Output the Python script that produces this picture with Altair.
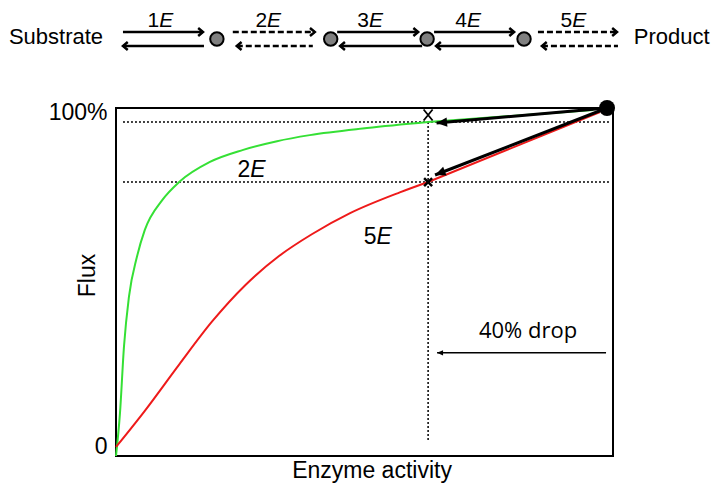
import math
import altair as alt
import pandas as pd

FONT = "Liberation Sans"
GREEN = "#35e035"
RED = "#ee1a1a"

# ---------------- values ----------------
# Flux (% of wild type) against enzyme activity (% of wild type)
green_x = [0.0, 0.8, 1.6, 2.6, 4.2, 5.8, 9.3, 12.7, 18.9, 25.6, 32.4, 39.0, 50.5, 62.8]
green_y = [-2.7, 10.1, 29.9, 44.8, 56.7, 64.8, 73.7, 79.1, 85.1, 88.7, 91.3, 93.1, 95.2, 97.0]
green_tail_x = [62.8, 96.0]
green_tail_y = [97.0, 100.6]
red_x = [0.0, 5.8, 12.7, 19.3, 26.0, 32.8, 39.4, 47.1, 57.1, 62.8]
red_y = [0.0, 10.8, 24.6, 37.4, 48.3, 57.0, 63.5, 69.8, 76.0, 79.1]
red_tail_x = [62.8, 97.4]
red_tail_y = [79.1, 100.0]

wt_x, wt_y = 98.8, 101.2          # wild-type point (big black dot)
drop_x = 62.8                     # reduced activity (40 % drop)
level_green, level_red = 97.0, 79.1
mark_top_y = 99.1                 # the "X" above the 100 % line
arrow_tip_x = [64.5, 64.2]
arrow_tip_y = [96.7, 81.2]
drop_arrow_x = [98.6, 64.6]
drop_arrow_y = 28.1
guide_x0, guide_x1, guide_ybottom = 1.4, 99.6, 1.5

# in-plot text
curve_label_num = ["2", "5"]
curve_label_x = [27.2, 52.6]
curve_label_y = [80.6, 60.6]
drop_text = "40% drop"
drop_text_x, drop_text_y = 82.9, 32.5

# ---------------- pathway diagram ----------------
steps = ["1", "2", "3", "4", "5"]
step_style = ["solid", "dashed", "solid", "solid", "dashed"]
fwd_x0 = [1.4, 23.5, 44.5, 64.0, 84.9]
fwd_x1 = [17.5, 40.0, 60.8, 80.1, 100.8]
back_x0 = [1.4, 24.3, 45.1, 64.4, 85.7]
back_x1 = [17.7, 39.6, 61.6, 80.1, 101.0]
label_x = [8.9, 30.6, 51.1, 70.8, 92.0]
node_x = [20.3, 43.2, 62.6, 82.1]
row_fwd, row_back, row_node, row_label, row_end = 123.9, 119.7, 121.8, 125.4, 120.3
end_names = ["Substrate", "Product"]
end_x = [-2.6, 104.2]

# pixel per unit (plot area 497 x 348)
SX = 497 / 100.0
SY = 348 / (101.2 + 2.7)

xs = alt.Scale(domain=[0, 100], nice=False, zero=False)
ys = alt.Scale(domain=[-2.7, 101.2], nice=False, zero=False)

x_axis = alt.Axis(title="Enzyme activity", labels=False, ticks=False, domain=False, grid=False,
                  titleFont=FONT, titleFontSize=23, titleFontWeight="normal", titleColor="black",
                  titleX=255.5, titleY=21, titleBaseline="alphabetic", titleAlign="center")
y_axis = alt.Axis(title="Flux", values=[0, 100], labelExpr="datum.value == 100 ? '100%' : '0'",
                  ticks=False, domain=False, grid=False, labelFont=FONT, labelFontSize=23,
                  labelColor="black", labelPadding=9,
                  titleFont=FONT, titleFontSize=23, titleFontWeight="normal", titleColor="black",
                  titleAngle=270, titleX=-29, titleY=167, titleBaseline="middle", titleAlign="center")


def X(f="x"):
    return alt.X(f"{f}:Q", scale=xs, axis=x_axis)


def Y(f="y"):
    return alt.Y(f"{f}:Q", scale=ys, axis=y_axis)


def screen_angle(x0, y0, x1, y1):
    return math.degrees(math.atan2(-(y1 - y0) * SY, (x1 - x0) * SX)) % 360


HEAD = "M0,0L-2,-0.9L-2,0.9Z"
CHEVRON = "M-1.2,-1L0,0L-1.2,1"
XMARK = "M-1,-1L1,1M-1,1L1,-1"
XMARK_TALL = "M-0.9,-1.1L0.9,1.1M-0.9,1.1L0.9,-1.1"

layers = []

# dotted guide lines
guides = pd.DataFrame({
    "x": [guide_x0, guide_x0, drop_x],
    "x2": [guide_x1, guide_x1, drop_x],
    "y": [level_green, level_red, level_green],
    "y2": [level_green, level_red, guide_ybottom],
})
layers.append(alt.Chart(guides).mark_rule(color="black", strokeWidth=1.5, strokeDash=[2, 2])
              .encode(x=X(), x2="x2:Q", y=Y(), y2="y2:Q"))

# curves
curve = pd.DataFrame({
    "x": green_x + red_x,
    "y": green_y + red_y,
    "s": ["2E"] * len(green_x) + ["5E"] * len(red_x),
})
tail = pd.DataFrame({
    "x": green_tail_x + red_tail_x,
    "y": green_tail_y + red_tail_y,
    "s": ["2E"] * 2 + ["5E"] * 2,
})
col = alt.Color("s:N", scale=alt.Scale(domain=["2E", "5E"], range=[GREEN, RED]), legend=None)
layers.append(alt.Chart(curve).mark_line(interpolate="monotone", strokeWidth=2)
              .encode(x=X(), y=Y(), color=col))
layers.append(alt.Chart(tail).mark_line(strokeWidth=2).encode(x=X(), y=Y(), color=col))

# black arrows from wild type to the two reduced fluxes
arr = pd.DataFrame({
    "x": [wt_x, wt_x], "y": [wt_y, wt_y],
    "x2": arrow_tip_x, "y2": arrow_tip_y,
})
arr["ang"] = [screen_angle(wt_x, wt_y, a, b) for a, b in zip(arrow_tip_x, arrow_tip_y)]
layers.append(alt.Chart(arr).mark_rule(color="black", strokeWidth=3)
              .encode(x=X(), x2="x2:Q", y=Y(), y2="y2:Q"))
layers.append(alt.Chart(arr).mark_point(shape=HEAD, filled=True, color="black", size=110, opacity=1)
              .encode(x=X("x2"), y=Y("y2"), angle=alt.Angle("ang:Q", scale=None)))

# 40% drop arrow
darr = pd.DataFrame({"x": [drop_arrow_x[0]], "x2": [drop_arrow_x[1]], "y": [drop_arrow_y]})
darr["ang"] = [screen_angle(drop_arrow_x[0], drop_arrow_y, drop_arrow_x[1], drop_arrow_y)]
layers.append(alt.Chart(darr).mark_rule(color="black", strokeWidth=1.5)
              .encode(x=X(), x2="x2:Q", y=Y()))
layers.append(alt.Chart(darr).mark_point(shape=HEAD, filled=True, color="black", size=36, opacity=1)
              .encode(x=X("x2"), y=Y(), angle=alt.Angle("ang:Q", scale=None)))

# x marks
layers.append(alt.Chart(pd.DataFrame({"x": [drop_x], "y": [mark_top_y]}))
              .mark_point(shape=XMARK_TALL, filled=False, color="black", strokeWidth=1.8, size=100, opacity=1)
              .encode(x=X(), y=Y()))
layers.append(alt.Chart(pd.DataFrame({"x": [drop_x], "y": [level_red]}))
              .mark_point(shape=XMARK, filled=False, color="black", strokeWidth=2.5, size=64, opacity=1)
              .encode(x=X(), y=Y()))

# wild-type dot
layers.append(alt.Chart(pd.DataFrame({"x": [wt_x], "y": [wt_y]}))
              .mark_point(shape="circle", filled=True, color="black", size=256, opacity=1)
              .encode(x=X(), y=Y()))

# in-plot labels: digit + italic E
cl = pd.DataFrame({"x": curve_label_x, "y": curve_label_y, "t": curve_label_num})
layers.append(alt.Chart(cl).mark_text(font=FONT, fontSize=23, align="right", baseline="alphabetic",
                                      dx=-1, color="black")
              .encode(x=X(), y=Y(), text="t:N"))
layers.append(alt.Chart(cl).mark_text(font=FONT, fontSize=23, fontStyle="italic", align="left",
                                      baseline="alphabetic", dx=-1, color="black")
              .encode(x=X(), y=Y(), text=alt.value("E")))

layers.append(alt.Chart(pd.DataFrame({"x": [drop_text_x], "y": [drop_text_y], "t": [drop_text]}))
              .mark_text(font="Open Sans", fontSize=22, align="center", baseline="alphabetic", color="black")
              .encode(x=X(), y=Y(), text="t:N"))

# ---------------- pathway diagram ----------------
fwd = pd.DataFrame({"x": fwd_x0, "x2": fwd_x1, "y": [row_fwd] * 5, "dash": step_style,
                    "hx": fwd_x1, "ang": [0] * 5})
back = pd.DataFrame({"x": back_x0, "x2": back_x1, "y": [row_back] * 5, "dash": step_style,
                     "hx": back_x0, "ang": [180] * 5})
paths = pd.concat([fwd, back], ignore_index=True)
dash = alt.StrokeDash("dash:N", scale=alt.Scale(domain=["solid", "dashed"], range=[[1, 0], [6, 3]]),
                      legend=None)
layers.append(alt.Chart(paths).mark_rule(color="black", strokeWidth=2.5)
              .encode(x=X(), x2="x2:Q", y=Y(), strokeDash=dash))
layers.append(alt.Chart(paths).mark_point(shape=CHEVRON, filled=False, color="black", strokeWidth=2.5,
                                          size=64, opacity=1)
              .encode(x=X("hx"), y=Y(), angle=alt.Angle("ang:Q", scale=None)))

layers.append(alt.Chart(pd.DataFrame({"x": node_x, "y": [row_node] * 4}))
              .mark_point(shape="circle", filled=True, fill="#808080", stroke="black", strokeWidth=2,
                          size=180, opacity=1)
              .encode(x=X(), y=Y()))

sl = pd.DataFrame({"x": label_x, "y": [row_label] * 5, "t": steps})
layers.append(alt.Chart(sl).mark_text(font=FONT, fontSize=21, align="right", baseline="alphabetic",
                                      dx=-1, color="black")
              .encode(x=X(), y=Y(), text="t:N"))
layers.append(alt.Chart(sl).mark_text(font=FONT, fontSize=21, fontStyle="italic", align="left",
                                      baseline="alphabetic", dx=-1, color="black")
              .encode(x=X(), y=Y(), text=alt.value("E")))

ends = pd.DataFrame({"x": end_x, "y": [row_end] * 2, "t": end_names})
layers.append(alt.Chart(ends.iloc[[0]]).mark_text(font=FONT, fontSize=22, align="right",
                                                  baseline="alphabetic", color="black")
              .encode(x=X(), y=Y(), text="t:N"))
layers.append(alt.Chart(ends.iloc[[1]]).mark_text(font=FONT, fontSize=22, align="left",
                                                  baseline="alphabetic", color="black")
              .encode(x=X(), y=Y(), text="t:N"))

chart = (
    alt.layer(*layers)
    .properties(width=497, height=348, autosize=alt.AutoSizeParams(type="none"),
                padding={"left": 108, "top": 100, "right": 99, "bottom": 28},
                background="white")
    .configure_view(stroke="black", strokeWidth=2)
)

chart.save("out.html", embed_options={"renderer": "svg", "actions": False})
